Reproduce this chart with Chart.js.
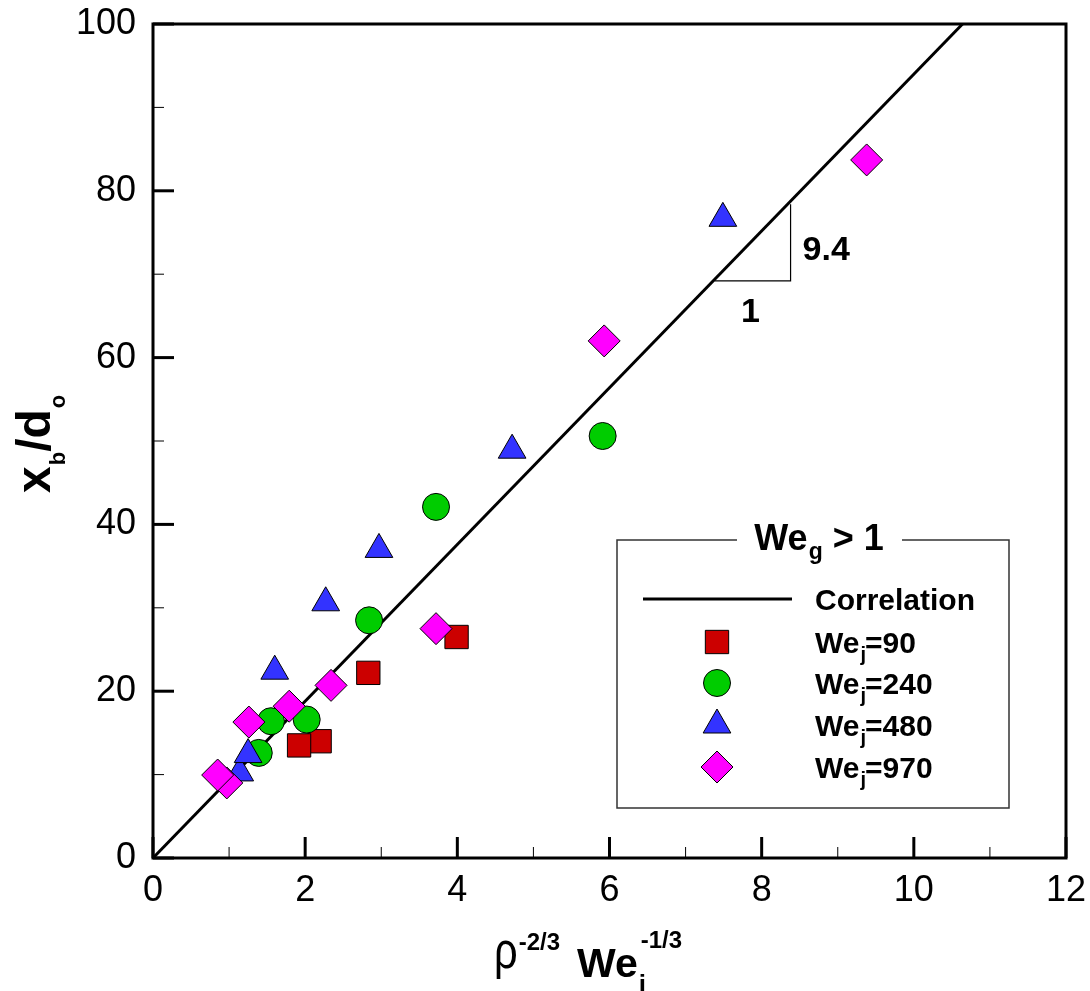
<!DOCTYPE html>
<html><head><meta charset="utf-8">
<script src="https://cdn.jsdelivr.net/npm/chart.js@4.4.1/dist/chart.umd.min.js"></script>
<style>html,body{margin:0;padding:0;background:#fff}canvas{display:block}</style>
</head><body>
<canvas id="c" width="1090" height="991"></canvas>
<script>
// ---- data ----
const xTickValues = [0, 2, 4, 6, 8, 10, 12];
const yTickValues = [0, 20, 40, 60, 80, 100];
const corrX = [0, 10.64];
const corrY = [0, 100];
const we90X  = [2.19, 1.92, 2.83, 3.99];
const we90Y  = [14.0, 13.5, 22.2, 26.5];
const we240X = [1.39, 1.55, 2.02, 2.84, 3.72, 5.91];
const we240Y = [12.6, 16.4, 16.6, 28.5, 42.1, 50.6];
const we480X = [1.14, 1.25, 1.60, 2.27, 2.97, 4.72, 7.49];
const we480Y = [10.2, 12.4, 22.4, 30.6, 37.0, 48.9, 76.7];
const we970X = [0.97, 0.85, 1.26, 1.79, 2.34, 3.72, 5.93, 9.38];
const we970Y = [9.0, 9.95, 16.3, 18.2, 20.7, 27.5, 62.0, 83.7];
const slopeTriX = [7.38, 8.38];
const slopeTriY = [69.2, 78.4];
const slopeLabel = '9.4';
const runLabel = '1';
const seriesLabels = ['90', '240', '480', '970'];

const pts = (xs, ys) => xs.map((x, i) => ({x, y: ys[i]}));
const FONT = '"Liberation Sans", Arial, sans-serif';

const series = [
  {label: 'We_j=90',  data: pts(we90X, we90Y),   pointStyle: 'rect',     pointRadius: 16.5, backgroundColor: '#CC0000', order: 3},
  {label: 'We_j=240', data: pts(we240X, we240Y), pointStyle: 'circle',   pointRadius: 13.5, backgroundColor: '#00CC00', order: 2},
  {label: 'We_j=480', data: pts(we480X, we480Y), pointStyle: 'triangle', pointRadius: 16,   backgroundColor: '#3333FF', order: 1},
  {label: 'We_j=970', data: pts(we970X, we970Y), pointStyle: 'rectRot',  pointRadius: 16,   backgroundColor: '#FF00FF', order: 0},
];
const datasets = [
  {type: 'line', label: 'Correlation', data: pts(corrX, corrY), borderColor: '#000', borderWidth: 3, pointRadius: 0, fill: false, order: 5, clip: false},
  ...series.map(s => Object.assign({type: 'scatter', borderColor: '#000', borderWidth: 1, pointBorderWidth: 1,
     pointBackgroundColor: s.backgroundColor, pointHoverRadius: s.pointRadius, showLine: false}, s))
];

function drawRich(ctx, parts, x, y) {
  let cx = x;
  for (const p of parts) {
    ctx.font = p.f;
    cx += (p.dx || 0);
    ctx.fillText(p.t, cx, y + (p.dy || 0));
    cx += ctx.measureText(p.t).width;
  }
  return cx;
}
function richWidth(ctx, parts) {
  let w = 0;
  for (const p of parts) { ctx.font = p.f; w += (p.dx || 0) + ctx.measureText(p.t).width; }
  return w;
}
function marker(ctx, style, r, x, y, fill) {
  ctx.save();
  ctx.fillStyle = fill; ctx.strokeStyle = '#000'; ctx.lineWidth = 1;
  if (Chart.helpers && Chart.helpers.drawPoint) {
    Chart.helpers.drawPoint(ctx, {pointStyle: style, radius: r, rotation: 0, borderWidth: 1}, x, y);
  }
  ctx.restore();
}

const decor = {
  id: 'decor',
  afterDraw(chart) {
    const ctx = chart.ctx, a = chart.chartArea;
    const xs = chart.scales.x, ys = chart.scales.y;
    ctx.save();
    ctx.strokeStyle = '#000'; ctx.fillStyle = '#000';
    // inward ticks
    for (let v = 0; v <= 12; v++) {
      const px = xs.getPixelForValue(v), major = v % 2 === 0;
      ctx.lineWidth = major ? 3 : 1;
      ctx.beginPath(); ctx.moveTo(px, a.bottom); ctx.lineTo(px, a.bottom - (major ? 21 : 11)); ctx.stroke();
    }
    for (let v = 0; v <= 100; v += 10) {
      const py = ys.getPixelForValue(v), major = v % 20 === 0;
      ctx.lineWidth = major ? 3 : 1;
      ctx.beginPath(); ctx.moveTo(a.left, py); ctx.lineTo(a.left + (major ? 21 : 11), py); ctx.stroke();
    }
    // frame
    ctx.lineWidth = 3;
    ctx.strokeRect(a.left, a.top, a.right - a.left, a.bottom - a.top);

    // slope triangle
    const tx0 = xs.getPixelForValue(slopeTriX[0]), tx1 = xs.getPixelForValue(slopeTriX[1]);
    const ty0 = ys.getPixelForValue(slopeTriY[0]), ty1 = ys.getPixelForValue(slopeTriY[1]);
    ctx.lineWidth = 1.2;
    ctx.beginPath(); ctx.moveTo(tx0, ty0); ctx.lineTo(tx1, ty0); ctx.lineTo(tx1, ty1); ctx.stroke();
    ctx.font = 'bold 34px ' + FONT;
    ctx.textBaseline = 'alphabetic'; ctx.textAlign = 'left';
    ctx.fillText(slopeLabel, tx1 + 12, (ty0 + ty1) / 2 + 17);
    ctx.textAlign = 'center';
    ctx.fillText(runLabel, (tx0 + tx1) / 2 - 2, ty0 + 41);
    ctx.textAlign = 'left';

    // legend box
    const L = 617, R = 1009, T = 540, B = 808;
    ctx.fillStyle = '#fff';
    ctx.fillRect(L, T, R - L, B - T);
    ctx.fillStyle = '#000';
    ctx.strokeStyle = '#333'; ctx.lineWidth = 1.5;
    ctx.beginPath();
    ctx.moveTo(737, T); ctx.lineTo(L, T); ctx.lineTo(L, B); ctx.lineTo(R, B); ctx.lineTo(R, T); ctx.lineTo(902, T);
    ctx.stroke();
    const titleParts = [
      {t: 'We', f: 'bold 36px ' + FONT},
      {t: 'g', f: 'bold 23px ' + FONT, dy: 9, dx: 1},
      {t: ' > 1', f: 'bold 36px ' + FONT},
    ];
    const tw = richWidth(ctx, titleParts);
    drawRich(ctx, titleParts, 819 - tw / 2, 550);
    // correlation entry
    ctx.strokeStyle = '#000'; ctx.lineWidth = 3;
    ctx.beginPath(); ctx.moveTo(643, 599); ctx.lineTo(792, 599); ctx.stroke();
    ctx.font = 'bold 30px ' + FONT;
    ctx.fillText('Correlation', 815, 610);
    const rowY = [642, 683, 725, 767];
    series.forEach((s, i) => {
      marker(ctx, s.pointStyle, s.pointRadius, 717, rowY[i], s.backgroundColor);
      ctx.fillStyle = '#000';
      drawRich(ctx, [
        {t: 'We', f: 'bold 30px ' + FONT},
        {t: 'j', f: 'bold 20px ' + FONT, dy: 8, dx: 1},
        {t: '=' + seriesLabels[i], f: 'bold 30px ' + FONT, dx: -1},
      ], 815, rowY[i] + 11);
    });

    // x axis title
    ctx.fillStyle = '#000';
    let cx = 494;
    ctx.save();
    ctx.translate(cx, 968);
    ctx.scale(0.8, 1);
    ctx.font = '52px ' + FONT; ctx.fillText('\u03c1', 0, 0);
    const rw = ctx.measureText('\u03c1').width * 0.8;
    ctx.restore();
    cx += rw + 1;
    ctx.font = 'bold 24px ' + FONT; ctx.fillText('-2/3', cx, 950);
    cx += ctx.measureText('-2/3').width + 6;
    cx = Math.max(cx, 577);
    ctx.font = 'bold 41px ' + FONT; ctx.fillText('We', cx, 977);
    cx += ctx.measureText('We').width;
    ctx.font = 'bold 26px ' + FONT; ctx.fillText('j', cx + 1, 993);
    ctx.font = 'bold 24px ' + FONT; ctx.fillText('-1/3', cx + 3, 948);

    // y axis title (rotated)
    ctx.save();
    ctx.translate(50, 493);
    ctx.rotate(-Math.PI / 2);
    drawRich(ctx, [
      {t: 'x', f: 'bold 48px ' + FONT},
      {t: 'b', f: 'bold 22px ' + FONT, dy: 15, dx: 1},
      {t: '/d', f: 'bold 48px ' + FONT},
      {t: 'o', f: 'bold 22px ' + FONT, dy: 15, dx: 1},
    ], 0, 0);
    ctx.restore();
    ctx.restore();
  }
};

new Chart(document.getElementById('c'), {
  type: 'scatter',
  data: {datasets},
  options: {
    responsive: false,
    animation: false,
    devicePixelRatio: 1,
    layout: {padding: {left: 0, top: 24, right: 24, bottom: 0}},
    plugins: {legend: {display: false}, tooltip: {enabled: false}, title: {display: false}},
    scales: {
      x: {
        type: 'linear', min: 0, max: 12,
        afterBuildTicks: s => { s.ticks = xTickValues.map(v => ({value: v})); },
        ticks: {autoSkip: false, maxRotation: 0, padding: 11, color: '#000', font: {family: FONT, size: 36}},
        grid: {display: false, drawTicks: false}, border: {display: false},
        afterFit: s => { s.height = 133; s.paddingLeft = 0; s.paddingRight = 0; }
      },
      y: {
        type: 'linear', min: 0, max: 100,
        afterBuildTicks: s => { s.ticks = yTickValues.map(v => ({value: v})); },
        ticks: {autoSkip: false, padding: 17, color: '#000', font: {family: FONT, size: 36}},
        grid: {display: false, drawTicks: false}, border: {display: false},
        afterFit: s => { s.width = 153; s.paddingTop = 0; s.paddingBottom = 0; }
      }
    }
  },
  plugins: [decor]
});
</script>
</body></html>
